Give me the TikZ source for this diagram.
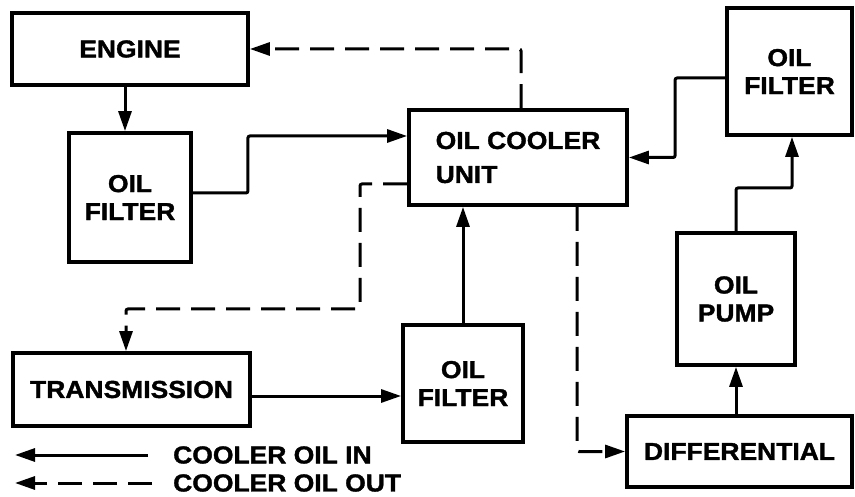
\documentclass[tikz,border=0pt]{standalone}
\usepackage{fontspec}
\newfontfamily\lbl{Liberation Sans}[FakeStretch=1.08,BoldFeatures={FakeBold=1.5}]
\usetikzlibrary{arrows.meta}
\begin{document}
\begin{tikzpicture}[x=1pt,y=-1pt,
  box/.style={draw,line width=3.8pt,rectangle,align=center,inner sep=0pt,
    font=\lbl\bfseries\fontsize{24.5}{28}\selectfont},
  arr/.style={line width=3pt,rounded corners=2pt,-{Triangle[length=20pt,width=13pt]}},
  darr/.style={arr,dash pattern=on 24pt off 11pt},
  legtext/.style={anchor=west,inner sep=0pt,font=\lbl\bfseries\fontsize{24.5}{28}\selectfont}]
\useasboundingbox (0,0) rectangle (855,497);

\node[box,minimum width=236pt,minimum height=72pt] (engine) at (130,49) {ENGINE};
\node[box,minimum width=122pt,minimum height=129pt] (of1) at (130,197.5) {OIL\\FILTER};
\node[box,align=left,minimum width=218pt,minimum height=95pt] (cooler) at (518,157.5)
  {OIL COOLER\\[6pt]UNIT};
\node[box,minimum width=125pt,minimum height=127pt] (of3) at (789.5,71.5) {OIL\\FILTER};
\node[box,minimum width=118pt,minimum height=132pt] (pump) at (736,299) {OIL\\PUMP};
\node[box,minimum width=225pt,minimum height=71pt] (diff) at (739.5,451.5) {DIFFERENTIAL};
\node[box,minimum width=237pt,minimum height=73pt] (trans) at (131.5,389.5) {TRANSMISSION};
\node[box,minimum width=120pt,minimum height=117pt] (of2) at (463,383.5) {OIL\\FILTER};

\coordinate (j1) at (360,309);
\coordinate (j2) at (0,188);

% solid connectors
\draw[arr] ([xshift=-5pt]engine.south) -- ([xshift=-5pt]of1.north);
\draw[arr] ([yshift=4.5pt]of1.east) -- ++(55,0) |- ([yshift=21.5pt]cooler.west);
\draw[arr] ([yshift=-6.5pt]trans.east) -- ([yshift=-6.5pt]trans.east -| of2.west);
\draw[arr] (of2.north) -- (of2.north |- cooler.south);
\draw[arr] (pump.south |- diff.north) -- (pump.south);
\draw[arr] (pump.north) -- (pump.north |- j2) -| ([xshift=2.5pt]of3.south);
\draw[arr] ([yshift=-6.5pt]of3.west) -- ++(-50,0) |- (cooler.east);

% dashed connectors
\draw[darr] ([xshift=3pt]cooler.north) |- (engine.east);
\draw[darr] ([yshift=-26.5pt]cooler.west) -| (j1) -| ([xshift=-5.5pt]trans.north);
\draw[darr] ([xshift=59pt]cooler.south) |- (diff.west);

% legend
\coordinate (la1) at (148,455);
\coordinate (la2) at (15,455);
\coordinate (lb1) at (152,483);
\coordinate (lb2) at (15,483);
\draw[arr] (la1) -- (la2);
\draw[darr] (lb1) -- (lb2);
\node[legtext] (lt1) at (173,455) {COOLER OIL IN};
\node[legtext] (lt2) at (173,483) {COOLER OIL OUT};
\end{tikzpicture}
\end{document}
